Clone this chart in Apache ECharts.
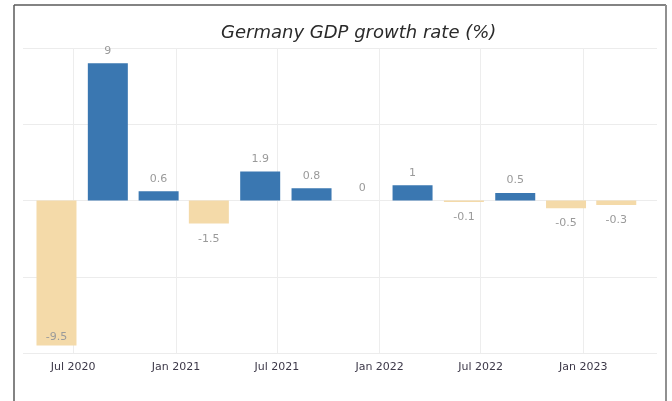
<!DOCTYPE html>
<html>
<head>
<meta charset="utf-8">
<script src="https://cdn.jsdelivr.net/npm/echarts@6/dist/echarts.min.js"></script>
<style>
  html, body { margin: 0; padding: 0; background: #ffffff; }
  #chart { width: 672px; height: 401px; }
</style>
</head>
<body>
<div id="chart"></div>
<script>
// Quarterly GDP growth, Germany (quarter placed on its last month)
var quarterDates = ['2020-06-01', '2020-09-01', '2020-12-01', '2021-03-01',
                    '2021-06-01', '2021-09-01', '2021-12-01', '2022-03-01',
                    '2022-06-01', '2022-09-01', '2022-12-01', '2023-03-01'];
var growthValues = [-9.5, 9, 0.6, -1.5, 1.9, 0.8, 0, 1, -0.1, 0.5, -0.5, -0.3];
var monthNames = ['Jan', 'Feb', 'Mar', 'Apr', 'May', 'Jun',
                  'Jul', 'Aug', 'Sep', 'Oct', 'Nov', 'Dec'];
var yTicks = [-10, -5, 0, 5, 10];
var xRange = ['2020-04-02', '2023-05-13'];

var POS_COLOR = '#3a77b1';
var NEG_COLOR = '#f4daa9';
var DAY = 24 * 3600 * 1000;

function ts(d) { return new Date(d + 'T00:00:00').getTime(); }

var chart = echarts.init(document.getElementById('chart'), null, { renderer: 'canvas' });

// Bars sit on a plain numeric (ms) axis so their width does not widen the date range
var barData = quarterDates.map(function (d, i) {
  var v = growthValues[i];
  var neg = v < 0;
  var deep = v <= yTicks[0] * 0.8;
  return {
    value: [ts(d), v],
    itemStyle: { color: neg ? NEG_COLOR : POS_COLOR },
    label: {
      position: deep ? 'insideBottom' : (neg ? 'bottom' : 'top'),
      distance: deep ? 3 : (neg ? 10 : 7)
    }
  };
});

chart.setOption({
  animation: false,
  backgroundColor: '#ffffff',
  title: {
    text: 'Germany GDP growth rate (%)',
    left: 216,
    top: 19,
    textStyle: {
      fontFamily: 'DejaVu Sans',
      fontStyle: 'italic',
      fontWeight: 'normal',
      fontSize: 18,
      color: '#2a2a2a'
    }
  },
  graphic: [
    { type: 'line', shape: { x1: 14, y1: 5, x2: 14, y2: 401 }, style: { stroke: '#5a5a5a', lineWidth: 1.5 } },
    { type: 'line', shape: { x1: 14, y1: 5, x2: 666, y2: 5 }, style: { stroke: '#5a5a5a', lineWidth: 1.5 } },
    { type: 'line', shape: { x1: 666, y1: 5, x2: 666, y2: 401 }, style: { stroke: '#909090', lineWidth: 2 } }
  ],
  grid: { left: 23, right: 15, top: 48, bottom: 48, containLabel: false },
  xAxis: [{
    type: 'time',
    min: ts(xRange[0]),
    max: ts(xRange[1]),
    minInterval: 180 * DAY,
    maxInterval: 185 * DAY,
    axisLine: { show: false },
    axisTick: { show: false },
    splitLine: { show: true, showMinLine: false, showMaxLine: false,
                 lineStyle: { color: '#ededed', width: 1 } },
    axisLabel: {
      margin: 9,
      fontFamily: 'DejaVu Sans',
      fontSize: 11,
      color: '#3c3848',
      formatter: function (val) {
        var d = new Date(val);
        return monthNames[d.getMonth()] + ' ' + d.getFullYear();
      }
    }
  }, {
    type: 'value',
    show: false,
    min: ts(xRange[0]),
    max: ts(xRange[1]),
    splitLine: { show: false }
  }],
  yAxis: {
    type: 'value',
    min: yTicks[0],
    max: yTicks[yTicks.length - 1],
    interval: 5,
    axisLine: { show: false },
    axisTick: { show: false },
    axisLabel: { show: false },
    splitLine: { show: true, lineStyle: { color: '#ececec', width: 1 } }
  },
  series: [{
    type: 'bar',
    xAxisIndex: 1,
    barWidth: 40,
    data: barData,
    label: {
      show: true,
      fontFamily: 'DejaVu Sans',
      fontSize: 11,
      color: '#9a9a9a',
      formatter: function (p) { return String(p.value[1]); }
    }
  }]
});
</script>
</body>
</html>
